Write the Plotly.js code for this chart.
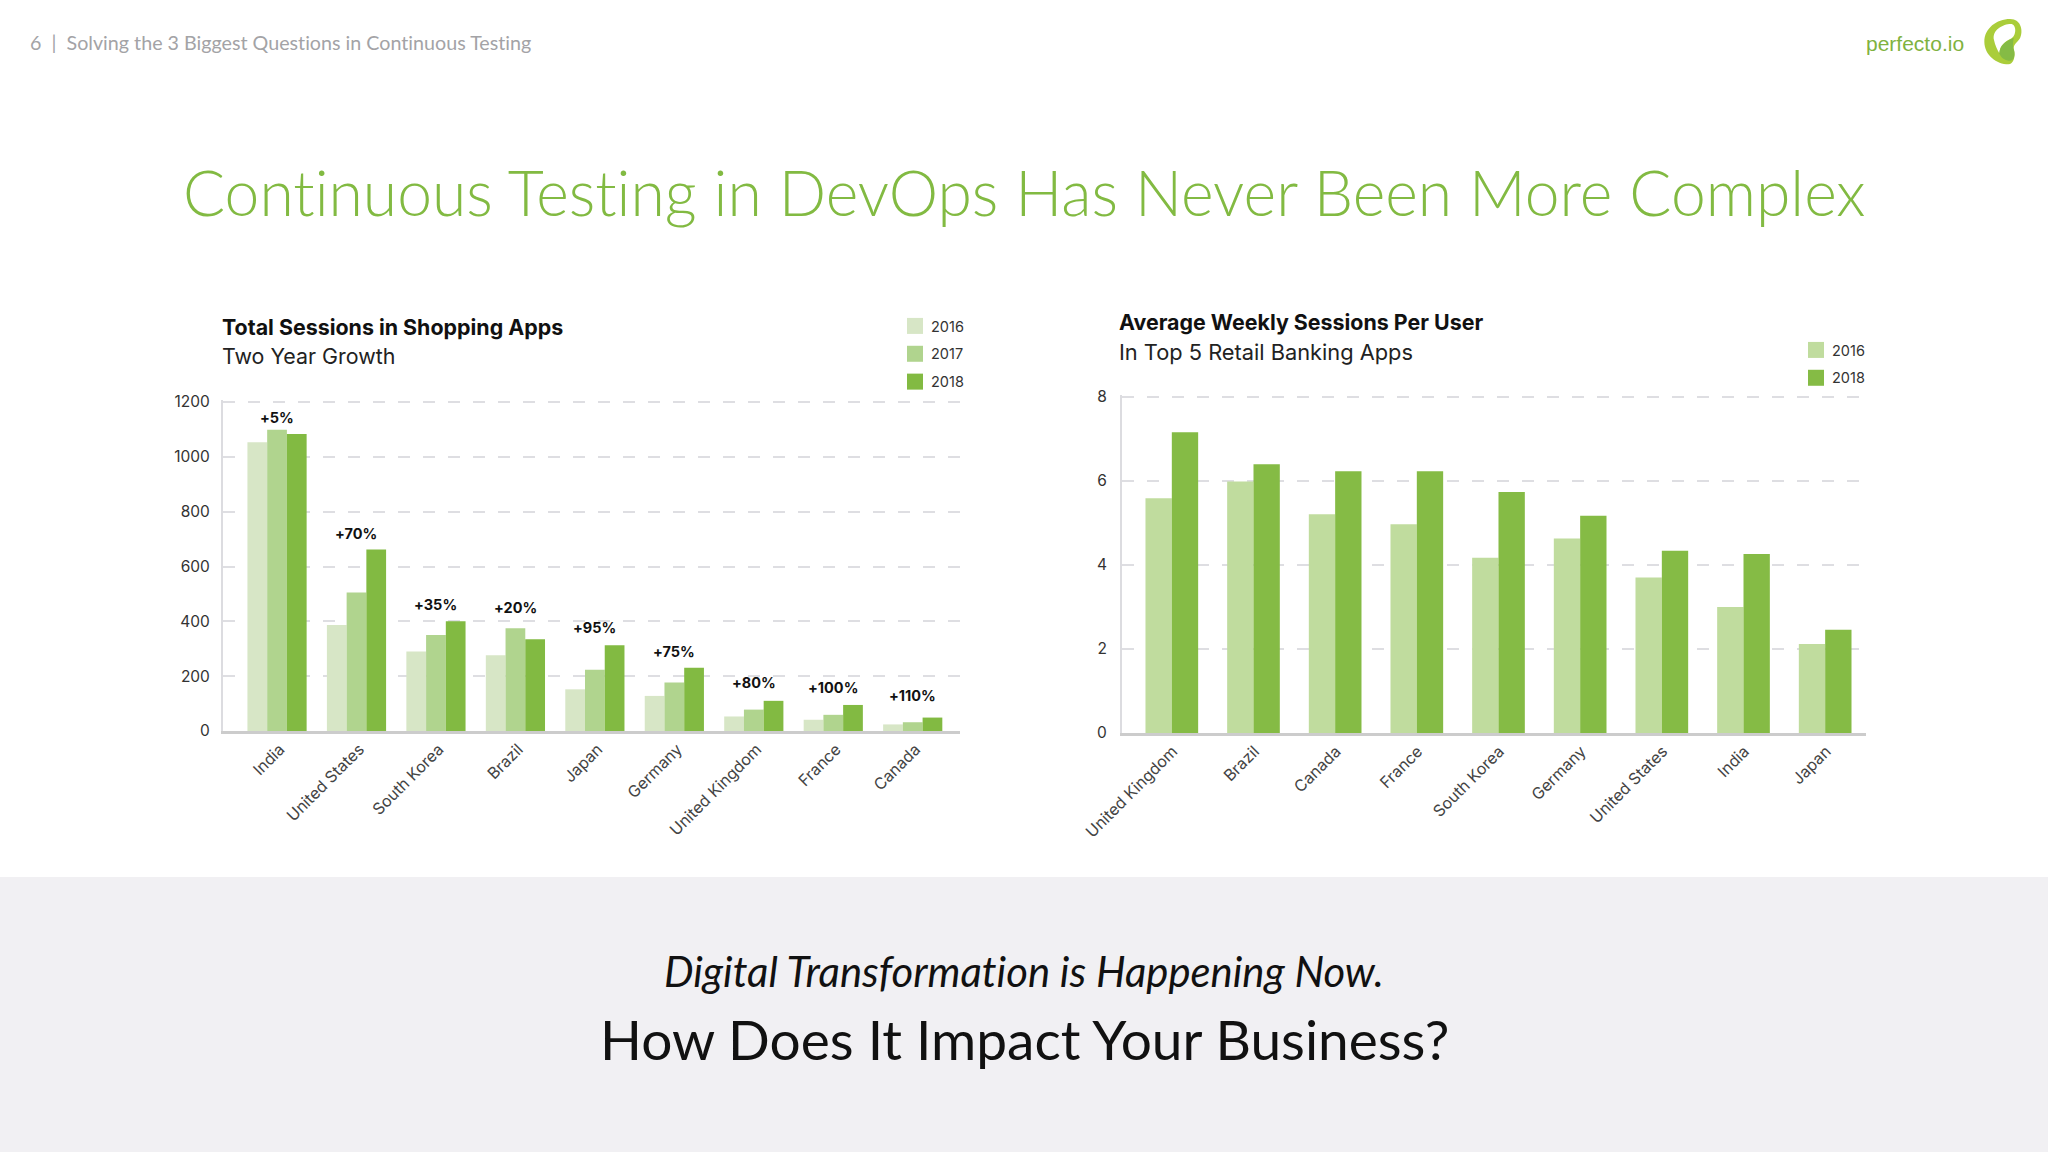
<!DOCTYPE html>
<html><head><meta charset="utf-8">
<script src="https://cdn.plot.ly/plotly-3.0.1.min.js"></script>
<style>html,body{margin:0;padding:0;background:#fff}#c{width:2048px;height:1152px}text{font-variant-ligatures:none!important;font-feature-settings:"liga" 0,"clig" 0!important}</style></head>
<body><div id="c"></div>
<script>
const shopCountries=["India","United States","South Korea","Brazil","Japan","Germany","United Kingdom","France","Canada"];
const shop2016=[1053,387,290,276,152,128,53,41,24];
const shop2017=[1099,505,350,375,223,177,78,59,32];
const shop2018=[1083,662,400,335,313,231,110,95,49];
const shopGrowth=["+5%","+70%","+35%","+20%","+95%","+75%","+80%","+100%","+110%"];
const shopGrowthY=[1143,719,462,452,376,290,176,157,129];
const bankCountries=["United Kingdom","Brazil","Canada","France","South Korea","Germany","United States","India","Japan"];
const bank2016=[5.59,5.99,5.21,4.97,4.17,4.63,3.70,3.0,2.12];
const bank2018=[7.16,6.40,6.23,6.23,5.74,5.17,4.34,4.26,2.46];

const W=2048,H=1152;
const C16='#d7e6c6',C17='#b0d48e',C18='#82ba42',B16='#c0dc9e',B18='#85bb45';
const chartFont='Inter, Lato, sans-serif', slideFont='Lato, sans-serif';
function px(x){return x/W} function py(y){return 1-y/H}
function bar(x,y,name,color,xa,ya,legend,extra){
  return Object.assign({type:'bar',x:x,y:y,name:name,xaxis:xa,yaxis:ya,legend:legend,legendgroup:legend+name,
    marker:{color:color,line:{width:0}},hoverinfo:'x+y+name'},extra||{});
}
const bankBarWidth=0.3225;
const data=[
  bar(shopCountries,shop2016,'2016',C16,'x','y','legend'),
  bar(shopCountries,shop2017,'2017',C17,'x','y','legend'),
  bar(shopCountries,shop2018,'2018',C18,'x','y','legend'),
  bar(bankCountries,bank2016,'2016',B16,'x2','y2','legend2',{width:bankBarWidth,offset:-bankBarWidth}),
  bar(bankCountries,bank2018,'2018',B18,'x2','y2','legend2',{width:bankBarWidth,offset:0})
];
function xax(dom,range,anchor,shift){return {domain:dom,anchor:anchor,type:'category',range:range,tickangle:-45,ticklabelshift:shift,
  tickfont:{family:chartFont,size:16,color:'#444'},ticks:'',showline:true,linecolor:'#cccccc',linewidth:2.5,showgrid:false,zeroline:false,automargin:false};}
function yax(dom,range,dtick,anchor,standoff){return {domain:dom,anchor:anchor,range:range,dtick:dtick,
  tickfont:{family:chartFont,size:15.5,color:'#333'},ticks:'',ticklen:0,ticklabelstandoff:standoff,showline:true,linecolor:'#dcdce0',linewidth:2,
  showgrid:true,gridcolor:'#dedee2',gridwidth:1.5,griddash:'12px,13px',zeroline:false,automargin:false};}
const annotations=[];
function note(text,x,y,size,color,opts){annotations.push(Object.assign({xref:'paper',yref:'paper',x:px(x),y:py(y),text:text,showarrow:false,
  xanchor:'left',yanchor:'middle',font:Object.assign({family:slideFont,size:size,color:color},(opts&&opts.font)||{})},opts&&opts.a||{}));}
note('6  |  Solving the 3 Biggest Questions in Continuous Testing',27.5,43,19.7,'#a3a3a6');
note('perfecto.io',1864,44,21,'#7fb23f',{font:{family:'Liberation Sans, Arial, sans-serif'}});
note('Continuous Testing in DevOps Has Never Been More Complex',1024,191,62.4,'#82ba42',{a:{xanchor:'center'},font:{weight:300}});
note('<b>Total Sessions in Shopping Apps</b>',220,327,21.4,'#111',{font:{family:chartFont}});
note('Two Year Growth',220,356,21.4,'#222',{font:{family:chartFont}});
note('<b>Average Weekly Sessions Per User</b>',1117,322,21.4,'#111',{font:{family:chartFont}});
note('In Top 5 Retail Banking Apps',1117,352,21.8,'#222',{font:{family:chartFont}});
note('<i>Digital Transformation is Happening Now.</i>',1024,971,41.8,'#111',{a:{xanchor:'center'}});
note('How Does It Impact Your Business?',1024,1039,55,'#111',{a:{xanchor:'center'}});
shopCountries.forEach((c,i)=>annotations.push({xref:'x',yref:'y',x:c,y:shopGrowthY[i],text:'<b>'+shopGrowth[i]+'</b>',showarrow:false,
  font:{family:chartFont,size:14.5,color:'#111'},yanchor:'middle'}));
function logoPath(segs){return segs.map(s=>s[0]+s.slice(1).map((v,i)=>i%2?py(v/3):px(1840+v/3)).join(',').replace(/^/,' ')).join(' ')+' Z';}
const logoRing=logoPath([['M',510,57],['C',470,57,433,85,433,125],['C',433,165,470,193,505,193],['C',520,193,527,170,522,150],['C',518,135,530,130,540,115],['C',550,95,545,57,510,57]])
  +' '+logoPath([['M',512,72],['C',530,72,530,105,515,115],['C',495,125,480,135,478,160],['C',472,150,465,135,462,120],['C',455,90,490,72,512,72]]);
const logoLeaf=logoPath([['M',478,160],['C',480,135,495,125,521,113],['C',518,135,518,140,522,150],['C',527,170,520,185,505,182],['C',492,180,482,172,478,160]]);
const layout={width:W,height:H,margin:{l:0,r:0,t:0,b:0},paper_bgcolor:'#fff',plot_bgcolor:'rgba(0,0,0,0)',
  barmode:'group',bargap:0.255,bargroupgap:0,showlegend:true,
  xaxis:xax([px(223),px(960)],[-0.68,8.595],'y',3),
  yaxis:yax([py(731),py(400.35)],[0,1206],200,'x',8),
  xaxis2:xax([px(1122),px(1866)],[-0.61,8.5],'y2',1),
  yaxis2:yax([py(733),py(394.9)],[0,8.05],2,'x2',10),
  legend:{x:px(891),y:py(310),xanchor:'left',yanchor:'top',bgcolor:'rgba(0,0,0,0)',tracegroupgap:6,itemclick:false,itemdoubleclick:false,font:{family:chartFont,size:14.5,color:'#333'}},
  legend2:{x:px(1792),y:py(334),xanchor:'left',yanchor:'top',bgcolor:'rgba(0,0,0,0)',tracegroupgap:6,itemclick:false,itemdoubleclick:false,font:{family:chartFont,size:14.5,color:'#333'}},
  annotations:annotations,
  shapes:[{type:'rect',xref:'paper',yref:'paper',x0:0,x1:1,y0:0,y1:py(877),fillcolor:'#f1f0f3',line:{width:0},layer:'below'},
    {type:'path',xref:'paper',yref:'paper',path:logoRing,fillcolor:'#aacd3a',line:{width:0},layer:'above'},
    {type:'path',xref:'paper',yref:'paper',path:logoLeaf,fillcolor:'#85bb45',line:{width:0},layer:'above'}]
};
Plotly.newPlot('c',data,layout,{displayModeBar:false,responsive:false}).then(()=>{
  document.querySelectorAll('.legendpoints path').forEach(p=>p.setAttribute('d','M12,8H-4V-8H12Z'));
});
</script></body></html>
